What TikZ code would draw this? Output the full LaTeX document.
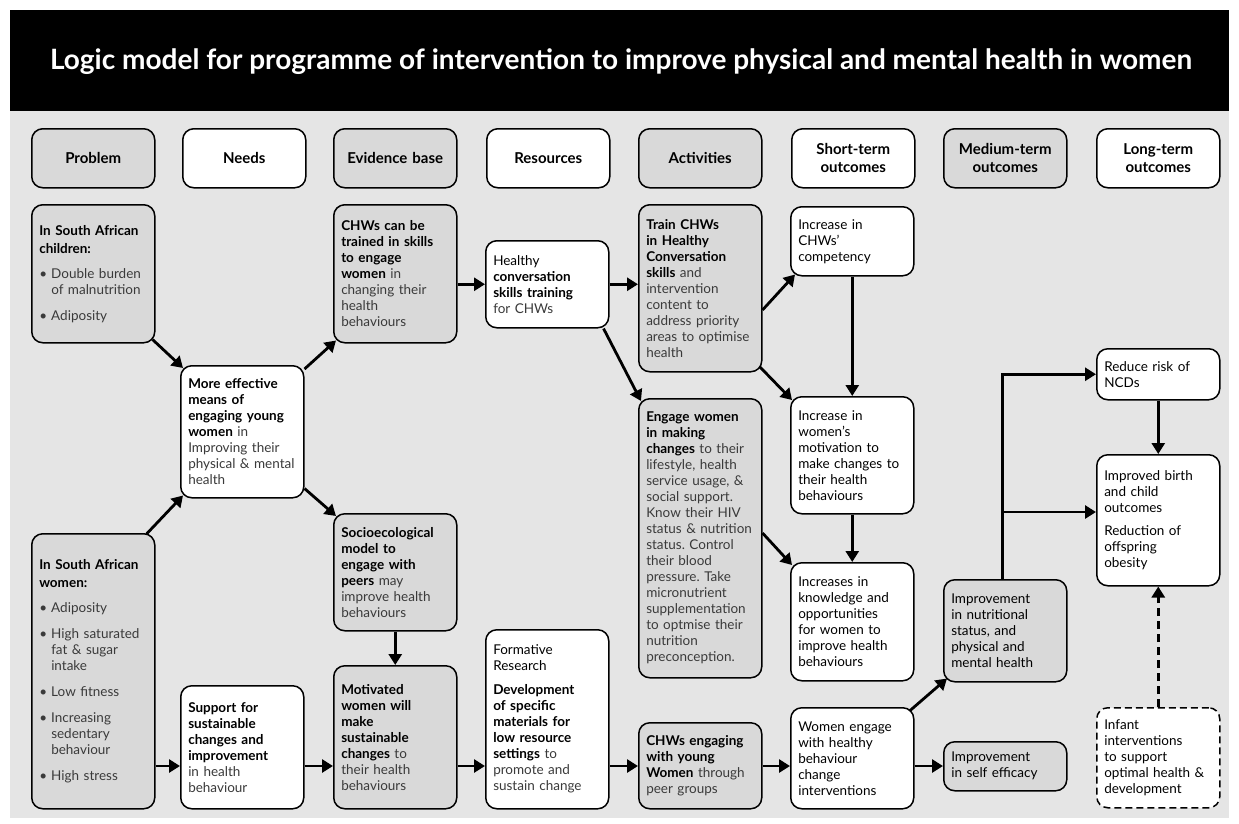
\documentclass[tikz,border=0pt]{standalone}
\usepackage{fontspec}
\setmainfont{Lato}
\usetikzlibrary{arrows.meta,calc}
\definecolor{bgray}{HTML}{E5E5E5}
\definecolor{bxgray}{HTML}{D9D9D9}
\definecolor{txgray}{HTML}{3A3A3A}
\newcommand\B[1]{\textbf{#1}}
\newcommand\R[1]{{\color{txgray}#1}}
\newcommand\bul{\makebox[12pt][l]{\textbullet}}
\newcommand\ind{\hspace*{12pt}}
\frenchspacing
\hyphenpenalty=10000
\exhyphenpenalty=10000
\begin{document}
\begin{tikzpicture}[x=1pt,y=-1pt,
  box/.style={draw=black, line width=1.5pt, rounded corners=11pt, align=left, anchor=north west,
    inner xsep=7.5pt, inner ysep=2pt, text width=108pt, minimum width=123pt,
    execute at begin node={\hyphenpenalty=10000 },
    font=\fontsize{13.5}{16}\selectfont},
  gb/.style={box, fill=bxgray},
  wb/.style={box, fill=white},
  hd/.style={align=center, minimum height=59pt, font=\fontsize{15}{18}\selectfont\bfseries},
  arr/.style={line width=2.8pt, -{Triangle[length=11pt,width=13pt]}},
  dasharr/.style={arr, dash pattern=on 8pt off 5pt}
]
\useasboundingbox (0,0) rectangle (1239,823);
\fill[white] (0,0) rectangle (1239,823);
\fill[bgray] (10,111) rectangle (1229,818);
\fill[black] (10,10) rectangle (1229,111);
\node[text=white, font=\fontsize{28}{32}\selectfont\bfseries] (title) at (621,62)
  {Logic model for programme of intervention to improve physical and mental health in women};

% headers
\node[gb,hd] (hprob) at (31,128) {Problem};
\node[wb,hd] (hneed) at (182,128) {Needs};
\node[gb,hd] (hevid) at (333,128) {Evidence base};
\node[wb,hd] (hres)  at (486,128) {Resources};
\node[gb,hd] (hact)  at (638,128) {Activities};
\node[wb,hd] (hshort) at (791,128) {Short-term\\outcomes};
\node[gb,hd] (hmed)  at (943,128) {Medium-term\\outcomes};
\node[wb,hd] (hlong) at (1096,128) {Long-term\\outcomes};

% Problem column
\node[gb, minimum height=138pt] (child) at (31,204)
 {\B{In South African}\\[2pt] \B{children:}\\[9pt]
  \R{\bul Double burden}\\ \R{\ind of malnutrition}\\[10pt] \R{\bul Adiposity}};
\node[gb, minimum height=275pt] (women) at (31,533)
 {\B{In South African}\\[2pt] \B{women:}\\[9pt]
  \R{\bul Adiposity}\\[10pt]
  \R{\bul High saturated}\\ \R{\ind fat \& sugar}\\ \R{\ind intake}\\[10pt]
  \R{\bul Low fitness}\\[10pt]
  \R{\bul Increasing}\\ \R{\ind sedentary}\\ \R{\ind behaviour}\\[10pt]
  \R{\bul High stress}};

% Needs column
\node[wb, minimum height=132pt] (meff) at (180,365)
 {\B{More effective}\\ \B{means of}\\ \B{engaging young}\\ \B{women} \R{in}\\
  \R{Improving their}\\ \R{physical \& mental}\\ \R{health}};
\node[wb, minimum height=123pt] (supp) at (180,685)
 {\B{Support for}\\ \B{sustainable}\\ \B{changes and}\\ \B{improvement}\\
  \R{in health}\\ \R{behaviour}};

% Evidence column
\node[gb, minimum height=138pt] (chwt) at (333,204)
 {\B{CHWs can be}\\ \B{trained in skills}\\ \B{to engage}\\ \B{women} \R{in}\\
  \R{changing their}\\ \R{health}\\ \R{behaviours}};
\node[gb, minimum height=117pt] (socio) at (333,513)
 {\B{Socioecological}\\ \B{model to}\\ \B{engage with}\\ \B{peers} \R{may}\\
  \R{improve health}\\ \R{behaviours}};
\node[gb, minimum height=143pt] (motw) at (333,665)
 {\B{Motivated}\\ \B{women will}\\ \B{make}\\ \B{sustainable}\\ \B{changes} \R{to}\\
  \R{their health}\\ \R{behaviours}};

% Resources column
\node[wb, minimum height=87pt] (hcs) at (485,240)
 {Healthy\\ \B{conversation}\\ \B{skills training}\\ \R{for CHWs}};
\node[wb, minimum height=179pt] (form) at (485,629)
 {Formative\\ Research\\[8pt] \B{Development}\\ \B{of specific}\\ \B{materials for}\\
  \B{low resource}\\ \B{settings} \R{to}\\ \R{promote and}\\ \R{sustain change}};

% Activities column
\node[gb, minimum height=167pt] (train) at (638,204)
 {\B{Train CHWs}\\ \B{in Healthy}\\ \B{Conversation}\\ \B{skills} \R{and}\\
  \R{intervention}\\ \R{content to}\\ \R{address priority}\\ \R{areas to optimise}\\ \R{health}};
\node[gb, minimum height=279pt] (engage) at (638,398)
 {\B{Engage women}\\ \B{in making}\\ \B{changes} \R{to their}\\ \R{lifestyle, health}\\
  \R{service usage, \&}\\ \R{social support.}\\ \R{Know their HIV}\\ \R{status \& nutrition}\\
  \R{status. Control}\\ \R{their blood}\\ \R{pressure. Take}\\ \R{micronutrient}\\
  \R{supplementation}\\ \R{to optmise their}\\ \R{nutrition}\\ \R{preconception.}};
\node[gb, minimum height=86pt] (chwe) at (638,722)
 {\B{CHWs engaging}\\ \B{with young}\\ \B{Women} \R{through}\\ \R{peer groups}};

% Short-term column
\node[wb, minimum height=69pt] (comp) at (790,206)
 {Increase in\\ CHWs’\\ competency};
\node[wb, minimum height=117pt] (motiv) at (790,396)
 {Increase in\\ women’s\\ motivation to\\ make changes to\\ their health\\ behaviours};
\node[wb, minimum height=118pt] (know) at (790,562)
 {Increases in\\ knowledge and\\ opportunities\\ for women to\\ improve health\\ behaviours};
\node[wb, minimum height=101pt] (weng) at (790,707)
 {Women engage\\ with healthy\\ behaviour\\ change\\ interventions};

% Medium-term column
\node[gb, minimum height=102pt] (nutr) at (943,579)
 {Improvement\\ in nutritional\\ status, and\\ physical and\\ mental health};
\node[gb, minimum height=49pt] (selfe) at (943,741)
 {Improvement\\ in self efficacy};

% Long-term column
\node[wb, minimum height=51pt] (ncd) at (1096,348)
 {Reduce risk of\\ NCDs};
\node[wb, minimum height=131pt] (birth) at (1096,454)
 {Improved birth\\ and child\\ outcomes\\[7pt] Reduction of\\ offspring\\ obesity};
\node[wb, minimum height=100pt, dash pattern=on 7pt off 4pt] (infant) at (1096,707)
 {Infant\\ interventions\\ to support\\ optimal health \&\\ development};

% connectors
\coordinate (row) at (0,766);
\coordinate (br) at (1001,512);
\draw[arr] ([xshift=-3pt,yshift=4pt]child.south east) -- ([xshift=3pt,yshift=-3pt]meff.north west);
\draw[arr] ([xshift=-9pt,yshift=-1pt]women.north east) -- ([xshift=3pt,yshift=3pt]meff.south west);
\draw[arr] ([yshift=-4pt]meff.north east) -- ([xshift=3pt,yshift=3pt]chwt.south west);
\draw[arr] ([yshift=10pt]meff.south east) -- ([xshift=3pt,yshift=-3pt]socio.north west);
\draw[arr] (chwt.east |- hcs.west) -- (hcs.west);
\draw[arr] (hcs.east) -- (hcs.east -| train.west);
\draw[arr] ([xshift=-6pt]hcs.south east) -- ([xshift=3pt,yshift=-3pt]engage.north west);
\draw[arr] ([yshift=-106pt]train.north east) -- ([xshift=5pt,yshift=2pt]comp.south west);
\draw[arr] ([xshift=-3pt,yshift=6pt]train.south east) -- ([xshift=2pt,yshift=-4pt]motiv.north west);
\draw[arr] (comp.south) -- (motiv.north);
\draw[arr] (motiv.south) -- (know.north);
\draw[arr] ([yshift=-135pt]engage.north east) -- ([xshift=2pt,yshift=-3pt]know.north west);
\draw[arr] (socio.south) -- (motw.north);
\draw[arr] (women.east |- row) -- (supp.west |- row);
\draw[arr] (supp.east |- row) -- (motw.west |- row);
\draw[arr] (motw.east |- row) -- (form.west |- row);
\draw[arr] (form.east |- row) -- (chwe.west |- row);
\draw[arr] (chwe.east |- row) -- (weng.west |- row);
\draw[arr] (weng.east |- row) -- (selfe.west |- row);
\draw[arr] ([xshift=-5pt,yshift=-4pt]weng.north east) -- ([xshift=4pt,yshift=4pt]nutr.south west);
\draw[arr] ([xshift=-3pt]nutr.north) |- (ncd.west);
\draw[arr] (br) -- (birth.west |- br);
\draw[arr] (ncd.south) -- (birth.north);
\draw[dasharr] (infant.north) -- (birth.south);
\end{tikzpicture}
\end{document}
